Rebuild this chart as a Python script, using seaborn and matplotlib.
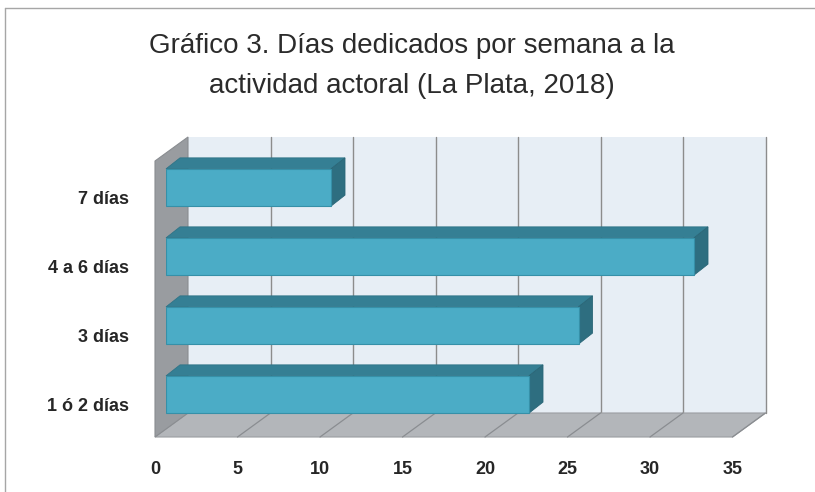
import matplotlib
matplotlib.use("Agg")
import matplotlib.pyplot as plt
import matplotlib.transforms as mtransforms
from matplotlib.patches import Polygon
from matplotlib.lines import Line2D
import seaborn as sns
import pandas as pd

# datos
categorias = ["7 días", "4 a 6 días", "3 días", "1 ó 2 días"]
valores = [10, 32, 25, 22]
ticks_x = [0, 5, 10, 15, 20, 25, 30, 35]
titulo = "Gráfico 3. Días dedicados por semana a la\nactividad actoral (La Plata, 2018)"

sns.set_style("white")
plt.rcParams["font.family"] = ["Liberation Sans", "DejaVu Sans"]

W, H = 815, 492
fig = plt.figure(figsize=(W / 100, H / 100), dpi=100)

# ejes = plano frontal de las barras
ax_l, ax_b, ax_w, ax_h = 166, 429, 577.5, 276
ax = fig.add_axes([ax_l / W, 1 - ax_b / H, ax_w / W, ax_h / H])
ax.patch.set_alpha(0)

df = pd.DataFrame({"cat": categorias, "val": valores})
sns.barplot(data=df, x="val", y="cat", orient="h", color="#4BACC6", saturation=1,
            width=0.54, edgecolor="#3690A8", linewidth=0.8, ax=ax, zorder=5)
ax.set_xlim(ticks_x[0], ticks_x[-1])
ax.set_ylim(len(categorias) - 0.5, -0.5)
x0, x1 = ax.get_xlim()
y_bot, y_top = ax.get_ylim()

ppx = ax_w / (x1 - x0)
ppy = ax_h / (y_bot - y_top)


def off(dx_px, dy_px):
    # desplazamiento en pixeles (derecha, arriba) -> unidades de datos
    return dx_px / ppx, -dy_px / ppy


fx, fy = off(-11, -8)   # plano frontal (suelo / etiquetas)
bx, by = off(22, 16)    # pared del fondo
dx, dy = off(14, 11)    # profundidad de las barras

# pared del fondo
ax.add_patch(Polygon([(x0 + bx, y_top + by), (x1 + bx, y_top + by),
                      (x1 + bx, y_bot + by), (x0 + bx, y_bot + by)],
                     closed=True, facecolor="#E7EEF5", edgecolor="none",
                     zorder=0, clip_on=False))
for t in ticks_x[1:]:
    ax.add_line(Line2D([t + bx, t + bx], [y_top + by, y_bot + by],
                       color="#8C8C8C", lw=1, zorder=0.5, clip_on=False))

# suelo
ax.add_patch(Polygon([(x0 + fx, y_bot + fy), (x1 + fx, y_bot + fy),
                      (x1 + bx, y_bot + by), (x0 + bx, y_bot + by)],
                     closed=True, facecolor="#B3B6BA", edgecolor="#9A9DA1",
                     lw=0.8, zorder=1, clip_on=False))
for t in ticks_x[1:]:
    ax.add_line(Line2D([t + fx, t + bx], [y_bot + fy, y_bot + by],
                       color="#8A8D91", lw=0.9, zorder=1.2, clip_on=False))

# pared lateral
ax.add_patch(Polygon([(x0 + fx, y_top + fy), (x0 + bx, y_top + by),
                      (x0 + bx, y_bot + by), (x0 + fx, y_bot + fy)],
                     closed=True, facecolor="#999CA0", edgecolor="#8A8D91",
                     lw=0.8, zorder=1.5, clip_on=False))

# caras superior y lateral de las barras
for p in ax.patches[:len(valores)]:
    px, py = p.get_x(), p.get_y()
    pw, ph = p.get_width(), p.get_height()
    ax.add_patch(Polygon([(px, py), (px + pw, py), (px + pw + dx, py + dy), (px + dx, py + dy)],
                         closed=True, facecolor="#357F94", edgecolor="#2F7487",
                         lw=0.6, zorder=4, clip_on=False))
    ax.add_patch(Polygon([(px + pw, py), (px + pw + dx, py + dy),
                          (px + pw + dx, py + ph + dy), (px + pw, py + ph)],
                         closed=True, facecolor="#2E6E80", edgecolor="#2A6677",
                         lw=0.6, zorder=4, clip_on=False))

sns.despine(ax=ax, left=True, bottom=True)
ax.set_xlabel("")
ax.set_ylabel("")

ax.set_xticks(ticks_x)
ax.set_xticklabels([str(t) for t in ticks_x], fontsize=13, fontweight="bold")
ax.tick_params(axis="x", length=0, pad=23)
ax.tick_params(axis="y", length=0, pad=26.5)
for lbl in ax.get_yticklabels():
    lbl.set_fontweight("bold")
    lbl.set_fontsize(13)
    lbl.set_transform(lbl.get_transform() +
                      mtransforms.ScaledTranslation(0, -10 / 100, fig.dpi_scale_trans))
for lbl in ax.get_xticklabels():
    lbl.set_transform(lbl.get_transform() +
                      mtransforms.ScaledTranslation(-11 / 100, 0, fig.dpi_scale_trans))

fig.text(412 / W, 1 - 66 / H, titulo, ha="center", va="center",
         fontsize=20, linespacing=1.74, color="#2B2B2B")

# marco del area del grafico
fig.add_artist(Line2D([5 / W, 1], [1 - 8 / H, 1 - 8 / H], transform=fig.transFigure,
                      color="#A6A6A6", lw=1))
fig.add_artist(Line2D([5 / W, 5 / W], [0, 1 - 8 / H], transform=fig.transFigure,
                      color="#A6A6A6", lw=1))

fig.savefig("out.png", dpi=100, facecolor="white")
